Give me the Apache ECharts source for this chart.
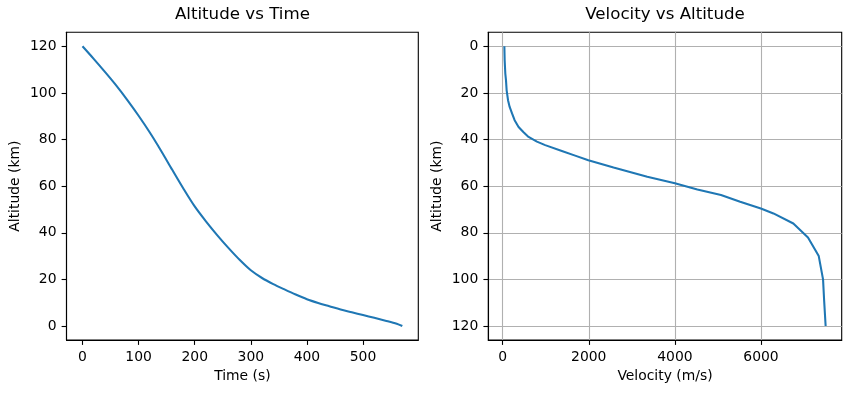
<!DOCTYPE html>
<html>
<head>
<meta charset="utf-8">
<script src="https://cdn.jsdelivr.net/npm/echarts@6/dist/echarts.min.js"></script>
<style>
html,body{margin:0;padding:0;background:#fff;}
#chart{width:850px;height:393px;}
</style>
</head>
<body>
<div id="chart"></div>
<script>
// ---- Data ----
const timeS = [0,20,40,60,80,100,120,140,160,180,200,220,240,260,280,300,320,340,360,380,400,420,440,460,480,500,520,540,560,570];
const altitudeKm = [120,114.6,109,103.2,96.9,90.2,83,75.2,67,58.9,51.3,44.9,39,33.5,28.4,23.9,20.6,18,15.7,13.5,11.5,9.9,8.5,7.1,5.9,4.7,3.5,2.3,1.0,0];

const profileAltKm = [0,6,11.7,14.6,18.9,23.1,26,28.8,31.7,34.6,36.9,38.9,40.9,42.4,44.9,46.9,48.9,52,56,58.8,61.4,63.8,66.7,69.6,71.7,76,82,90,100,109,120];
const velocityMs   = [40,47,62,78,93,125,163,218,278,370,486,602,796,988,1375,1683,1990,2575,3358,4000,4521,5070,5515,5996,6288,6750,7090,7340,7440,7465,7500];

const timeTicks = [0,100,200,300,400,500];
const altTicks = [0,20,40,60,80,100,120];
const velTicks = [0,2000,4000,6000];

const titles = ['Altitude vs Time','Velocity vs Altitude'];
const xNames = ['Time (s)','Velocity (m/s)'];
const yName = 'Altitude (km)';

// ---- helpers ----
function pad(arr){ const mn=Math.min(...arr), mx=Math.max(...arr), m=0.05*(mx-mn); return [mn-m, mx+m]; }
const FONT = 'DejaVu Sans';
const lineColor = '#1f77b4';
const tickFont = 13.9;

function axisCommon(ticks){
  return {
    type:'value',
    axisLine:{show:true,onZero:false,lineStyle:{color:'#000',width:1.1}},
    axisTick:{show:true,inside:false,length:4.9,lineStyle:{color:'#000',width:1.1},customValues:ticks},
    axisLabel:{show:true,customValues:ticks,color:'#000',fontFamily:FONT,fontSize:tickFont,margin:10,formatter:v=>String(v)},
    nameTextStyle:{color:'#000',fontFamily:FONT,fontSize:tickFont},
    nameLocation:'middle'
  };
}

const tx = pad(timeS), ty = pad(altitudeKm), vx = pad(velocityMs), vy = pad(profileAltKm);

const chart = echarts.init(document.getElementById('chart'), null, {renderer:'canvas'});
chart.setOption({
  animation:false,
  backgroundColor:'#fff',
  title:[
    {text:titles[0],left:242.4,top:6,textAlign:'center',padding:0,textStyle:{color:'#000',fontFamily:FONT,fontSize:16.67,fontWeight:'normal'}},
    {text:titles[1],left:665,top:6,textAlign:'center',padding:0,textStyle:{color:'#000',fontFamily:FONT,fontSize:16.67,fontWeight:'normal'}}
  ],
  grid:[
    {left:66.5,top:32.3,width:351.8,height:307.7,show:true,borderColor:'#000',borderWidth:1.1,containLabel:false},
    {left:488.3,top:32.3,width:353.4,height:307.7,show:true,borderColor:'#000',borderWidth:1.1,containLabel:false}
  ],
  xAxis:[
    Object.assign(axisCommon(timeTicks),{gridIndex:0,min:tx[0],max:tx[1],name:xNames[0],nameGap:29,splitLine:{show:false}}),
    Object.assign(axisCommon(velTicks),{gridIndex:1,min:vx[0],max:vx[1],name:xNames[1],nameGap:29,splitLine:{show:true,lineStyle:{color:'#b0b0b0',width:1.1}}})
  ],
  yAxis:[
    Object.assign(axisCommon(altTicks),{gridIndex:0,min:ty[0],max:ty[1],name:yName,nameGap:44,splitLine:{show:false}}),
    Object.assign(axisCommon(altTicks),{gridIndex:1,min:vy[0],max:vy[1],inverse:true,name:yName,nameGap:44,splitLine:{show:true,lineStyle:{color:'#b0b0b0',width:1.1}}})
  ],
  series:[
    {type:'line',xAxisIndex:0,yAxisIndex:0,showSymbol:false,smooth:0.3,lineStyle:{color:lineColor,width:2.08},
     data:timeS.map((t,i)=>[t,altitudeKm[i]])},
    {type:'line',xAxisIndex:1,yAxisIndex:1,showSymbol:false,smooth:false,lineStyle:{color:lineColor,width:2.08},
     data:velocityMs.map((v,i)=>[v,profileAltKm[i]])}
  ]
});
</script>
</body>
</html>
